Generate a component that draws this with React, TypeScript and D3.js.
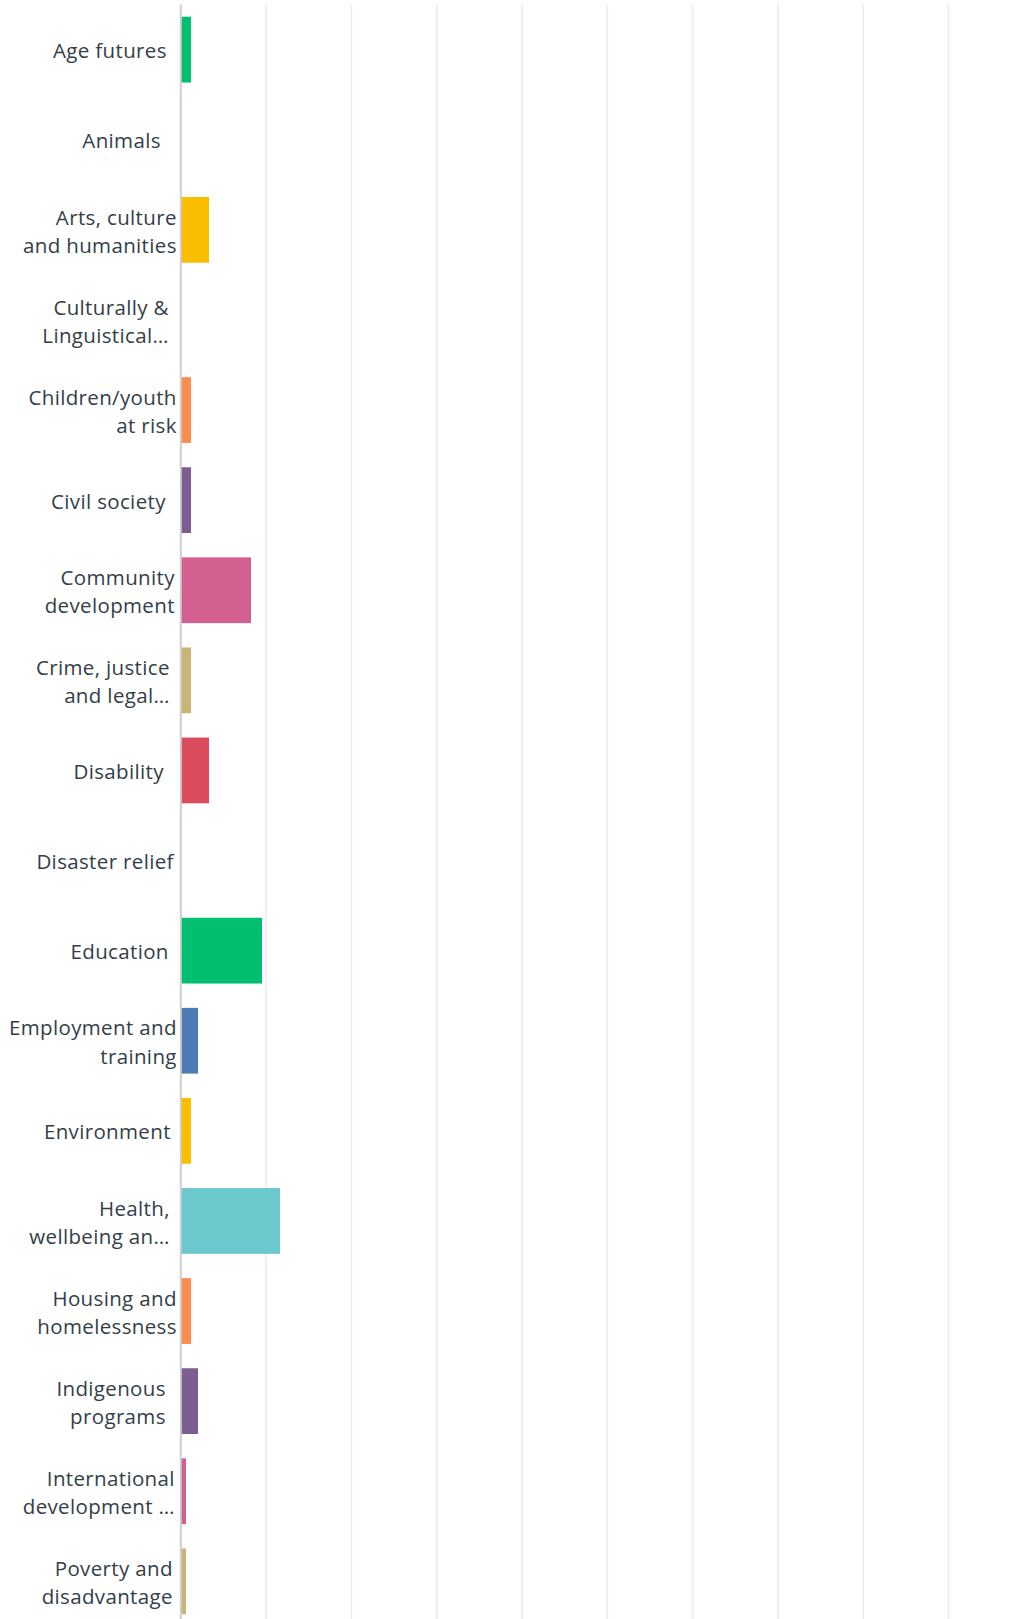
import React from "react";
import * as d3 from "d3";

// ---- data ----
const categories: string[][] = [
  ["Age futures"],
  ["Animals"],
  ["Arts, culture", "and humanities"],
  ["Culturally &", "Linguistical…"],
  ["Children/youth", "at risk"],
  ["Civil society"],
  ["Community", "development"],
  ["Crime, justice", "and legal…"],
  ["Disability"],
  ["Disaster relief"],
  ["Education"],
  ["Employment and", "training"],
  ["Environment"],
  ["Health,", "wellbeing an…"],
  ["Housing and", "homelessness"],
  ["Indigenous", "programs"],
  ["International", "development …"],
  ["Poverty and", "disadvantage"],
];
const values: number[] = [
  1.2, 0, 3.31, 0, 1.2, 1.2, 8.23, 1.2, 3.31, 0, 9.52, 2.02, 1.2, 11.63, 1.2, 2.02, 0.61, 0.61,
];
const xTicks: number[] = [0, 10, 20, 30, 40, 50, 60, 70, 80, 90, 100];

// ---- styling / layout ----
const palette = [
  "#00BF6F", "#507CB6", "#F9BE00", "#6BC8CD", "#FF8B4F",
  "#7D5E90", "#D25F90", "#C9B677", "#DB4D5C", "#A3A3A3",
];
// horizontal gap between label right edge and axis (label layout)
const labelGap = [15, 21, 5, 13, 5, 16, 7, 12, 18, 8, 13, 5, 11, 12, 5, 16, 7, 9];

const W = 1027;
const H = 1619;
const axisX = 180.8;
const plotTop = 4.6;
const step = 90.1;

export default function App() {
  const x = d3.scaleLinear().domain([0, 100]).range([axisX, axisX + 853]);
  const y = d3
    .scaleBand<number>()
    .domain(d3.range(categories.length))
    .range([plotTop, plotTop + step * categories.length])
    .paddingInner(0.27)
    .paddingOuter(0.135);
  const bottom = plotTop + step * categories.length;

  return (
    <div style={{ position: "absolute", left: 0, top: 0 }}>
      <svg width={W} height={H} style={{ display: "block" }}>
        <rect width={W} height={H} fill="#fff" />
        {xTicks.slice(1).map((t) => (
          <line
            key={t}
            x1={x(t)}
            x2={x(t)}
            y1={plotTop}
            y2={bottom}
            stroke="#ebebeb"
            strokeWidth={1.6}
          />
        ))}
        {values.map((v, i) =>
          v > 0 ? (
            <rect
              key={i}
              x={x(0)}
              y={y(i)}
              width={x(v) - x(0)}
              height={y.bandwidth()}
              fill={palette[i % palette.length]}
            />
          ) : null
        )}
        <line x1={axisX} x2={axisX} y1={plotTop} y2={bottom} stroke="#cfcfcf" strokeWidth={2} />
        {categories.map((lines, i) => {
          const c = (y(i) as number) + y.bandwidth() / 2;
          const tx = axisX - labelGap[i] + 1;
          const base = lines.length === 1 ? [c + 8.5] : [c - 5.3, c + 22.9];
          return (
            <text
              key={i}
              textAnchor="end"
              fontFamily="'Open Sans', sans-serif"
              fontSize={20.5}
              letterSpacing={0.35}
              fill="#333e48"
            >
              {lines.map((ln, j) => (
                <tspan key={j} x={tx} y={base[j]}>
                  {ln}
                </tspan>
              ))}
            </text>
          );
        })}
      </svg>
    </div>
  );
}
